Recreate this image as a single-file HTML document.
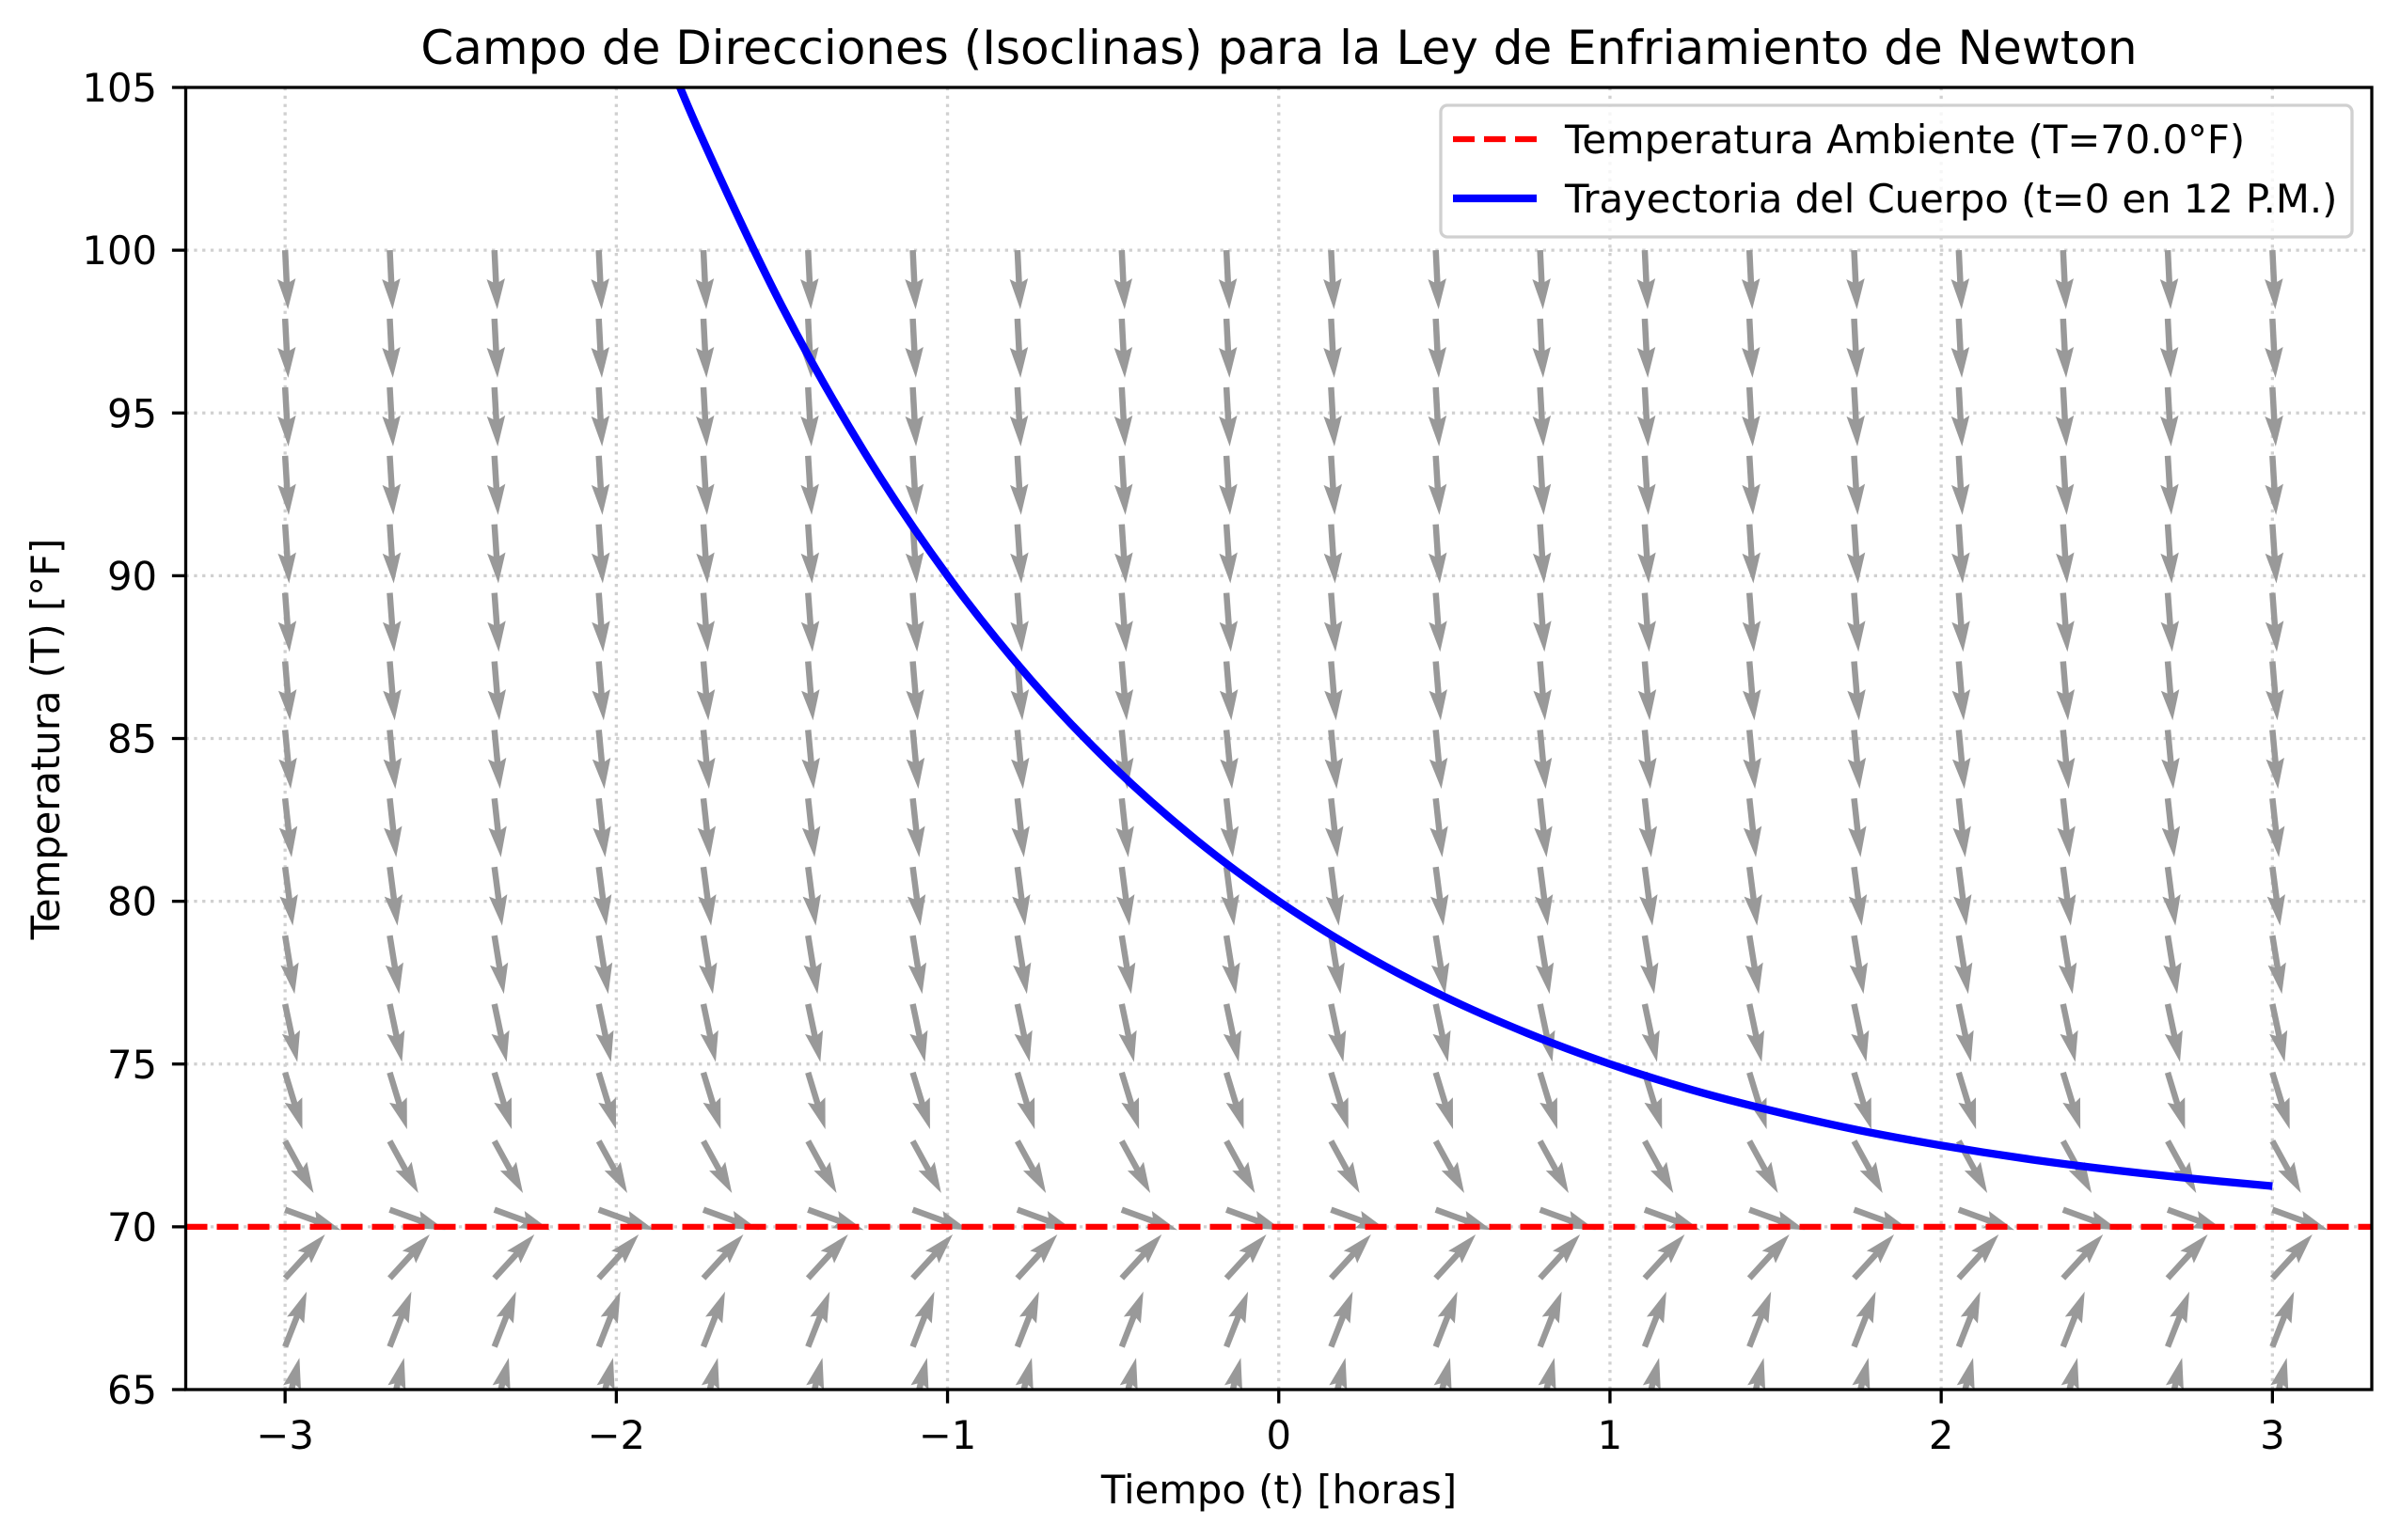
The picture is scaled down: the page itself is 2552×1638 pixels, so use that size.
<!DOCTYPE html>
<html><head><meta charset="utf-8">
<style>
html,body{margin:0;padding:0;background:#fff;}
svg{display:block;font-family:"DejaVu Sans","Liberation Sans",sans-serif;}
</style></head>
<body>
<svg id="chart" width="2552" height="1638" viewBox="0 0 2552 1638" xmlns="http://www.w3.org/2000/svg">
<rect x="0" y="0" width="2552" height="1638" fill="#fff"/>
<defs><clipPath id="plotclip"><rect x="197.5" y="93" width="2324.5" height="1385"/></clipPath></defs>
<g id="grid"></g>
<g id="field" clip-path="url(#plotclip)"></g>
<g id="lines" clip-path="url(#plotclip)"></g>
<g id="axes"></g>
<text x="1360" y="68" font-size="50" text-anchor="middle">Campo de Direcciones (Isoclinas) para la Ley de Enfriamiento de Newton</text>
<text x="1360" y="1599" font-size="41.7" text-anchor="middle">Tiempo (t) [horas]</text>
<text x="0" y="0" font-size="41.7" text-anchor="middle" transform="translate(63,786) rotate(-90)">Temperatura (T) [°F]</text>
<g>
<rect x="1532" y="112" width="969" height="140" rx="7" fill="#fff" fill-opacity="0.8" stroke="#d0d0d0" stroke-width="3.3"/>
<line x1="1545" y1="148" x2="1634" y2="148" stroke="#ff0000" stroke-width="6.25" stroke-dasharray="23 10"/>
<text x="1664" y="163" font-size="41.7">Temperatura Ambiente (T=70.0°F)</text>
<line x1="1545" y1="211" x2="1634" y2="211" stroke="#0000ff" stroke-width="8.3"/>
<text x="1664" y="226" font-size="41.7">Trayectoria del Cuerpo (t=0 en 12 P.M.)</text>
</g>
</svg>
<script>
// ---- data ----
const xTicks = [-3, -2, -1, 0, 1, 2, 3];
const xTickLabels = ["\u22123", "\u22122", "\u22121", "0", "1", "2", "3"];
const yTicks = [65, 70, 75, 80, 85, 90, 95, 100, 105];
const yTickLabels = ["65", "70", "75", "80", "85", "90", "95", "100", "105"];
const fieldT = [-3, -2.684, -2.368, -2.053, -1.737, -1.421, -1.105, -0.789, -0.474, -0.158, 0.158, 0.474, 0.789, 1.105, 1.421, 1.737, 2.053, 2.368, 2.684, 3];
const fieldTemp = [60, 62.105, 64.211, 66.316, 68.421, 70.526, 72.632, 74.737, 76.842, 78.947, 81.053, 83.158, 85.263, 87.368, 89.474, 91.579, 93.684, 95.789, 97.895, 100];
const ambientTemp = [70];
const coolingK = [0.693];
const curveT = [-1.9, -1.75, -1.5, -1.25, -1, -0.75, -0.5, -0.25, 0, 0.25, 0.5, 0.75, 1, 1.25, 1.5, 1.75, 2, 2.25, 2.5, 2.75, 3];
const curveTemp = [107.32, 103.64, 98.28, 93.78, 90, 86.82, 84.14, 81.89, 80, 78.41, 77.07, 75.95, 75, 74.20, 73.54, 72.97, 72.5, 72.10, 71.77, 71.49, 71.25];

// ---- axes ----
const L = 197.5, R = 2522, TOP = 93, BOT = 1478;
const xMin = -3.3, xMax = 3.3, yMin = 65, yMax = 105;
function X(v) { return L + (v - xMin) / (xMax - xMin) * (R - L); }
function Y(v) { return BOT - (v - yMin) / (yMax - yMin) * (BOT - TOP); }
const NS = "http://www.w3.org/2000/svg";
function mk(tag, attrs, parent) {
  const e = document.createElementNS(NS, tag);
  for (const k in attrs) e.setAttribute(k, attrs[k]);
  parent.appendChild(e);
  return e;
}
const grid = document.getElementById('grid');
const axes = document.getElementById('axes');
const field = document.getElementById('field');
const lines = document.getElementById('lines');

xTicks.forEach((v, i) => {
  const g = mk('line', {x1: X(v), x2: X(v), y1: TOP, y2: BOT, stroke: '#d0d0d0', 'stroke-width': 3.3, 'stroke-dasharray': '3.3 5.5'}, grid);
  
  
  const t = mk('line', {x1: X(v), x2: X(v), y1: BOT, y2: BOT + 14.6, stroke: '#000', 'stroke-width': 3.3}, axes);
  
  
  const lb = mk('text', {x: X(v), y: 1541, 'font-size': 41.7, 'text-anchor': 'middle'}, axes);
  lb.textContent = xTickLabels[i];
  
  
});
yTicks.forEach((v, i) => {
  if (v > yMin && v < yMax) {
    const g = mk('line', {x1: L, x2: R, y1: Y(v), y2: Y(v), stroke: '#d0d0d0', 'stroke-width': 3.3, 'stroke-dasharray': '3.3 5.5'}, grid);
    
    
  }
  const t = mk('line', {x1: L - 14.6, x2: L, y1: Y(v), y2: Y(v), stroke: '#000', 'stroke-width': 3.3}, axes);
  
  
  const lb = mk('text', {x: 167, y: Y(v) + 15, 'font-size': 41.7, 'text-anchor': 'end'}, axes);
  lb.textContent = yTickLabels[i];
  
  
});
const frame = mk('rect', {x: L, y: TOP, width: R - L, height: BOT - TOP, fill: 'none', stroke: '#000', 'stroke-width': 3.3}, axes);



// ---- direction field (quiver, unit vectors, pivot tail) ----
const AL = 63, w = 6.5, hl = 32.5, hal = 29, hw = 19.5;
const arrowPts = [[0, -w/2], [AL - hal, -w/2], [AL - hl, -hw/2], [AL, 0], [AL - hl, hw/2], [AL - hal, w/2], [0, w/2]].map(p => p.join(',')).join(' ');
fieldT.forEach(t => {
  fieldTemp.forEach(T => {
    const s = -coolingK[0] * (T - ambientTemp[0]);
    const n = Math.sqrt(1 + s * s);
    const u = 1 / n, v = s / n;
    const ang = Math.atan2(-v, u) * 180 / Math.PI;
    const a = mk('polygon', {points: arrowPts, fill: '#999999', transform: `translate(${X(t)},${Y(T)}) rotate(${ang})`}, field);
    
    
  });
});

// ---- ambient line ----
const amb = mk('line', {x1: L, x2: R, y1: Y(ambientTemp[0]), y2: Y(ambientTemp[0]), stroke: '#ff0000', 'stroke-width': 6.25, 'stroke-dasharray': '23 10'}, lines);



// ---- trajectory curve (Catmull-Rom through points) ----
const pts = curveT.map((t, i) => [X(t), Y(curveTemp[i])]);
let d = `M${pts[0][0]},${pts[0][1]}`;
for (let i = 0; i < pts.length - 1; i++) {
  const p0 = pts[Math.max(0, i - 1)], p1 = pts[i], p2 = pts[i + 1], p3 = pts[Math.min(pts.length - 1, i + 2)];
  const c1 = [p1[0] + (p2[0] - p0[0]) / 6, p1[1] + (p2[1] - p0[1]) / 6];
  const c2 = [p2[0] - (p3[0] - p1[0]) / 6, p2[1] - (p3[1] - p1[1]) / 6];
  d += ` C${c1[0]},${c1[1]} ${c2[0]},${c2[1]} ${p2[0]},${p2[1]}`;
}
const curve = mk('path', {d: d, fill: 'none', stroke: '#0000ff', 'stroke-width': 8.3}, lines);


</script>
</body></html>
